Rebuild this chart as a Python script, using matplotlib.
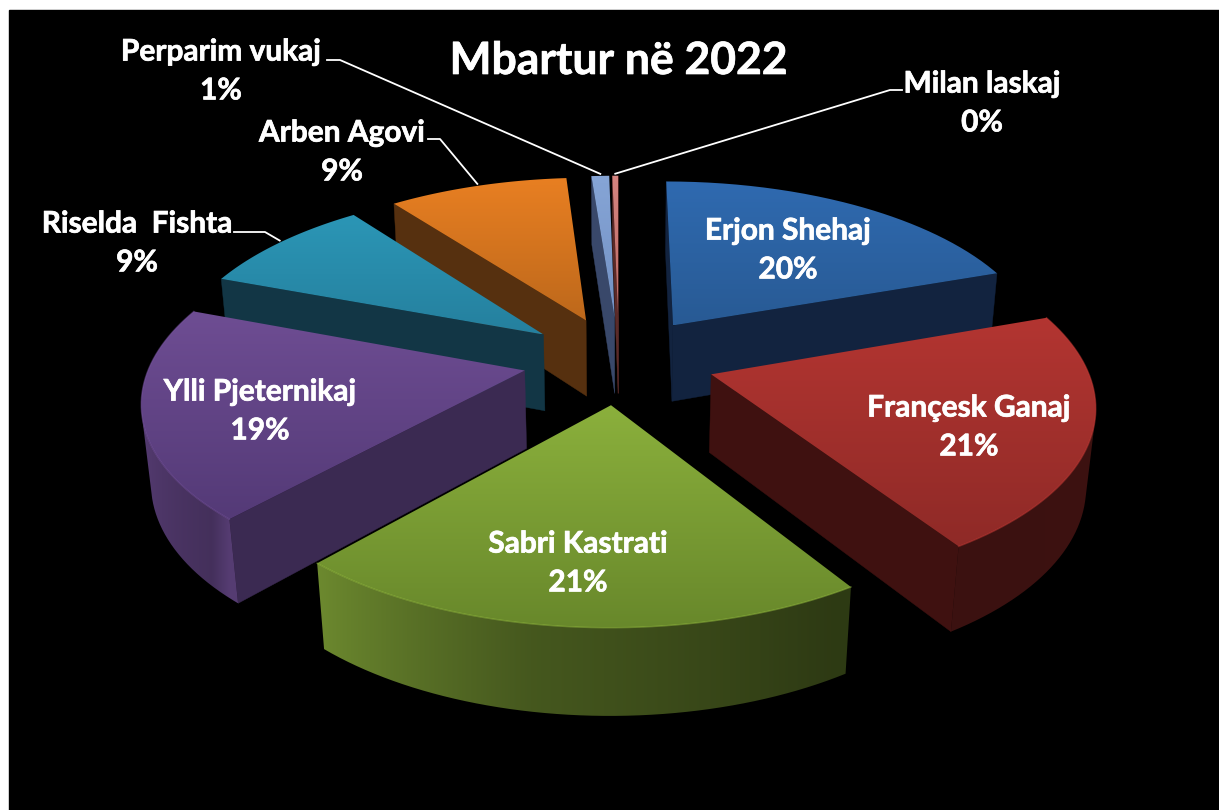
import numpy as np
import matplotlib
matplotlib.use("Agg")
import matplotlib.pyplot as plt
import matplotlib.patheffects as pe
from matplotlib.patches import PathPatch, Polygon, Rectangle
from matplotlib.path import Path
from matplotlib.colors import to_rgb

# Data
names = ["Erjon Shehaj", "Françesk Ganaj", "Sabri Kastrati", "Ylli Pjeternikaj",
         "Riselda  Fishta", "Arben Agovi", "Perparim vukaj", "Milan laskaj"]
shares = [19.6, 21.25, 20.75, 19.0, 9.0, 9.1, 0.9, 0.3]
title = "Mbartur në 2022"

# Colours of each slice: top face (upper, lower) and the cut wall
top_hi = ["#2f6ab0", "#b33531", "#8bb03c", "#6e4d93", "#2b96b6", "#e87f22", "#86a5d6", "#d58480"]
top_lo = ["#285a94", "#8f2a27", "#68882b", "#543a77", "#25809e", "#bd681b", "#7391c4", "#bd6a66"]
wall = ["#12233f", "#3f1110", "#3a4a18", "#3b2a52", "#123645", "#56300f", "#39486a", "#5a2a28"]

# Where the labels sit (text centre, pixels)
label_pos = [(788, 250), (969, 427), (578, 563), (260, 411), (137, 243), (342, 152), (221, 71), (982, 103)]
elbows = {4: [(265, 232), (234, 232)], 5: [(440, 139), (428, 139)],
          6: [(340, 60), (327, 60)], 7: [(890, 90), (902, 90)]}

# Projection of the tilted pie to pixels
cx, cy = 619, 360
rx, ry = 385, 174.7
persp, persp_z = 0.148, 0.02
thick = 79
explode = 0.25
radius_x = 0.97


def project(X, Y, z):
    w = 1 + persp * Y + persp_z * z
    return cx + rx * X / w, cy + (-ry * Y + thick * z) / w


def shoelace(pts):
    x, y = np.array(pts).T
    return np.sum(x * np.roll(y, -1) - np.roll(x, -1) * y)


def outer_shade(theta):
    return np.interp(theta % 360, [0, 70, 110, 150, 190, 222, 226, 260, 292, 360],
                     [0.4, 0.38, 0.34, 0.33, 0.5, 0.78, 0.62, 0.8, 0.6, 0.4])


def gradient_fill(ax, verts, colours, z, vertical=True):
    # colours run along the polygon's bounding box, clipped to the polygon
    xs, ys = np.array(verts).T
    img = colours.reshape(-1, 1, 3) if vertical else colours.reshape(1, -1, 3)
    im = ax.imshow(img, extent=(xs.min(), xs.max(), ys.max(), ys.min()),
                   aspect="auto", interpolation="bilinear", zorder=z)
    clip = PathPatch(Path(verts), transform=ax.transData, fc="none", ec="none")
    ax.add_patch(clip)
    im.set_clip_path(clip)


fig = plt.figure(figsize=(12.19, 8.10), dpi=100, facecolor="white")
ax = fig.add_axes([0, 0, 1, 1])
ax.add_patch(Rectangle((8.5, 9.5), 1219, 810, color="black", zorder=0))

edges = np.concatenate([[0], np.cumsum(shares)]) / np.sum(shares) * 360
mids = (edges[:-1] + edges[1:]) / 2
order = sorted(range(len(shares)), key=lambda i: -np.cos(np.radians(mids[i])))

z = 1
anchors = {}
for i in order:
    a0, a1 = edges[i], edges[i + 1]
    ox = explode * np.sin(np.radians(mids[i]))
    oy = explode * np.cos(np.radians(mids[i]))
    th = np.linspace(a0, a1, max(int(a1 - a0) * 2, 4))
    arc_x = ox + radius_x * np.sin(np.radians(th))
    arc_y = oy + np.cos(np.radians(th))
    apex_t, apex_b = project(ox, oy, 0), project(ox, oy, 1)
    top_arc = [project(X, Y, 0) for X, Y in zip(arc_x, arc_y)]
    bot_arc = [project(X, Y, 1) for X, Y in zip(arc_x, arc_y)]
    anchors[i] = project(ox + radius_x * np.sin(np.radians(mids[i])), oy + np.cos(np.radians(mids[i])), 0)

    # cut walls
    q0 = [apex_t, top_arc[0], bot_arc[0], apex_b]
    q1 = [apex_t, top_arc[-1], bot_arc[-1], apex_b]
    if shoelace(q0) < 0:
        ax.add_patch(Polygon(q0, fc=wall[i], ec=wall[i], lw=0.3, zorder=z))
        z += 1
    if shoelace(q1) > 0:
        ax.add_patch(Polygon(q1, fc=wall[i], ec=wall[i], lw=0.3, zorder=z))
        z += 1

    # outer wall, shade changes along the arc
    base = np.array(to_rgb(top_hi[i]))
    seen = [j for j in range(len(th) - 1)
            if shoelace([top_arc[j], top_arc[j + 1], bot_arc[j + 1], bot_arc[j]]) < 0]
    if seen:
        idx = list(range(seen[0], seen[-1] + 2))
        verts = [top_arc[j] for j in idx] + [bot_arc[j] for j in idx[::-1]]
        vx = np.array(verts)[:, 0]
        px = np.array([top_arc[j][0] for j in idx])
        shade = outer_shade(th[idx])
        sort = np.argsort(px)
        ramp = np.interp(np.linspace(vx.min(), vx.max(), 256), px[sort], shade[sort])
        gradient_fill(ax, verts, ramp[:, None] * base, z, vertical=False)
        z += 1

    # top face with a vertical gradient
    verts = [apex_t] + top_arc + [apex_t]
    ramp = np.linspace(to_rgb(top_hi[i]), to_rgb(top_lo[i]), 128)
    gradient_fill(ax, verts, ramp, z)
    z += 1
    # light rim on the front of the arc
    rim_x, rim_y = np.array(top_arc).T
    if 90 < mids[i] < 290:
        ax.plot(rim_x, rim_y, color=tuple(np.minimum(base * 1.15, 1)), lw=1.0, alpha=0.45, zorder=z)
        z += 1

ax.set_xlim(0, 1219)
ax.set_ylim(810, 0)
ax.axis("off")

# leader lines
for i, pts in elbows.items():
    xs = [anchors[i][0]] + [p[0] for p in pts]
    ys = [anchors[i][1] - 2] + [p[1] for p in pts]
    ax.plot(xs, ys, color="white", lw=1.3, zorder=z)

# labels
total = np.sum(shares)
heavier = [pe.withStroke(linewidth=0.5, foreground="white")]
for i, name in enumerate(names):
    ax.text(label_pos[i][0], label_pos[i][1], "%s\n%d%%" % (name, round(shares[i] / total * 100)),
            color="white", fontsize=21.5, fontfamily="Lato", fontweight="bold",
            ha="center", va="center", linespacing=1.47, zorder=z + 1, path_effects=heavier)

ax.text(619, 61, title, color="white", fontsize=32, fontfamily="Lato", fontweight="bold",
        ha="center", va="center", zorder=z + 1, path_effects=heavier)

fig.savefig("out.png", dpi=100, facecolor="white")
